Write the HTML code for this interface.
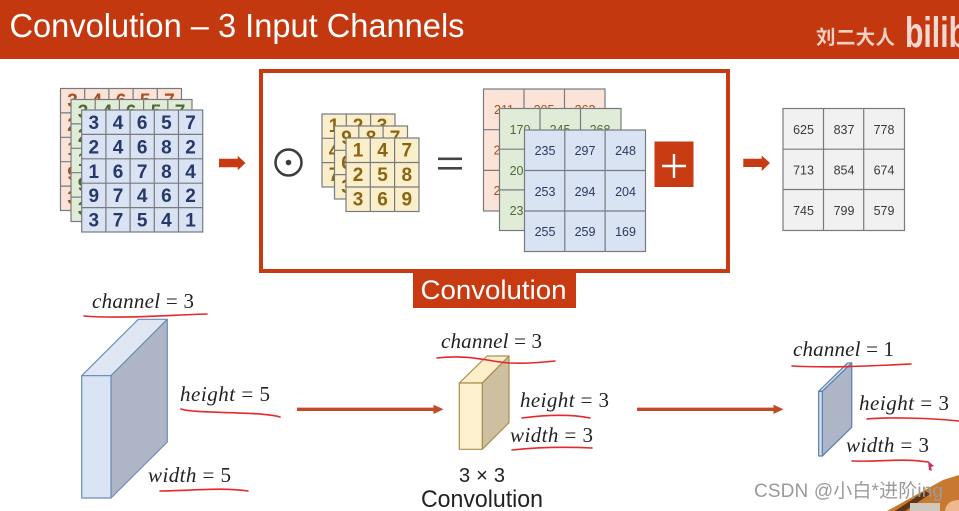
<!DOCTYPE html>
<html><head><meta charset="utf-8"><style>
html,body{margin:0;padding:0;background:#fff;width:959px;height:511px;overflow:hidden}
svg{display:block}
.m{font-family:"Liberation Serif",serif;font-size:21px;fill:#222}
.i{font-style:italic}
.n{font-family:"Liberation Sans",sans-serif;font-weight:bold;font-size:19px;text-anchor:middle}
.s{font-family:"Liberation Sans",sans-serif;font-size:12.5px;text-anchor:middle}
.u{fill:none;stroke:#e8272a;stroke-width:1.6;stroke-linecap:round}
.g{stroke:#777b80;stroke-width:1.2}
</style></head><body>
<svg width="959" height="511" viewBox="0 0 959 511" xmlns="http://www.w3.org/2000/svg">
<rect width="959" height="511" fill="#fff"/>
<rect width="959" height="59" fill="#c4380f"/>
<text x="9.500" y="37" font-family="Liberation Sans,sans-serif" font-size="33" fill="#fff" textLength="455" lengthAdjust="spacingAndGlyphs">Convolution – 3 Input Channels</text>
<text x="816" y="44" font-family="Liberation Sans,Noto Sans CJK SC,sans-serif" font-size="19.5" font-weight="bold" fill="#f3cfc4" textLength="79">刘二大人</text>
<text x="905" y="47" font-family="Liberation Sans,sans-serif" font-size="43" font-weight="bold" fill="#f3d8d2" textLength="62" lengthAdjust="spacingAndGlyphs">bilib</text>

<!-- input stacks -->
<g class="g"><rect x="60.5" y="88.5" width="121" height="122" fill="#fbe3d8"/><path d="M84.7 88.5V210.5M108.9 88.5V210.5M133.1 88.5V210.5M157.3 88.5V210.5M60.5 112.9H181.5M60.5 137.3H181.5M60.5 161.7H181.5M60.5 186.1H181.5" fill="none"/></g>
<g class="n" fill="#a8501f"><text x="72.600" y="107">3</text><text x="96.800" y="107">4</text><text x="121" y="107">6</text><text x="145.200" y="107">5</text><text x="169.400" y="107">7</text><text x="72.600" y="131">2</text><text x="72.600" y="155">1</text><text x="72.600" y="180">9</text><text x="72.600" y="204">3</text></g>
<g class="g"><rect x="71" y="99.500" width="121" height="122" fill="#e1ecd8"/><path d="M95.200 99.500V221.500M119.400 99.500V221.500M143.600 99.500V221.500M167.800 99.500V221.500M71 123.900H192M71 148.300H192M71 172.700H192M71 197.100H192" fill="none"/></g>
<g class="n" fill="#4c6a33"><text x="83" y="118">3</text><text x="107" y="118">4</text><text x="131" y="118">6</text><text x="156" y="118">5</text><text x="180" y="118">7</text><text x="83" y="142">2</text><text x="83" y="166">1</text><text x="83" y="191">9</text><text x="83" y="215">3</text></g>
<g class="g"><rect x="81.700" y="110" width="121" height="122" fill="#d9e3f3"/><path d="M105.900 110V232M130.100 110V232M154.300 110V232M178.500 110V232M81.700 134.400H202.700M81.700 158.800H202.700M81.700 183.200H202.700M81.700 207.600H202.700" fill="none"/></g>
<g class="n" fill="#26396a">
<text x="93.800" y="129">3</text><text x="118" y="129">4</text><text x="142.200" y="129">6</text><text x="166.400" y="129">5</text><text x="190.600" y="129">7</text>
<text x="93.800" y="153.500">2</text><text x="118" y="153.500">4</text><text x="142.200" y="153.500">6</text><text x="166.400" y="153.500">8</text><text x="190.600" y="153.500">2</text>
<text x="93.800" y="178">1</text><text x="118" y="178">6</text><text x="142.200" y="178">7</text><text x="166.400" y="178">8</text><text x="190.600" y="178">4</text>
<text x="93.800" y="202">9</text><text x="118" y="202">7</text><text x="142.200" y="202">4</text><text x="166.400" y="202">6</text><text x="190.600" y="202">2</text>
<text x="93.800" y="226.500">3</text><text x="118" y="226.500">7</text><text x="142.200" y="226.500">5</text><text x="166.400" y="226.500">4</text><text x="190.600" y="226.500">1</text>
</g>

<path d="M219 158.700H237.700V155.700L245.500 163L237.700 170.300V167.300H219Z" fill="#c73a12"/>
<rect x="261" y="71" width="467" height="200" fill="none" stroke="#c73a12" stroke-width="4"/>
<circle cx="288.500" cy="162.500" r="13" fill="none" stroke="#3c3c3c" stroke-width="2.500"/><circle cx="288.500" cy="162.500" r="2.800" fill="#3c3c3c"/>

<!-- kernel -->
<g class="g"><rect x="322" y="114" width="73" height="73" fill="#fbeecb"/><path d="M346.300 114V187M370.600 114V187M322 138.300H395M322 162.600H395"/></g>
<g class="n" fill="#8a6410"><text x="334" y="132">1</text><text x="358" y="132">2</text><text x="382" y="132">3</text><text x="334" y="157">4</text><text x="334" y="181">7</text></g>
<g class="g"><rect x="334.500" y="126" width="73" height="73" fill="#fbeecb"/><path d="M358.800 126V199M383.100 126V199M334.500 150.300H407.500M334.500 174.600H407.500"/></g>
<g class="n" fill="#8a6410"><text x="346.600" y="144">9</text><text x="371" y="144">8</text><text x="395" y="144">7</text><text x="346.600" y="169">6</text><text x="346.600" y="193">3</text></g>
<g class="g"><rect x="346" y="138" width="73" height="73.500" fill="#fbeecb"/><path d="M370.300 138V211.500M394.600 138V211.500M346 162.500H419M346 187H419"/></g>
<g class="n" fill="#8a6410">
<text x="358" y="156.500">1</text><text x="382.500" y="156.500">4</text><text x="406.800" y="156.500">7</text>
<text x="358" y="181">2</text><text x="382.500" y="181">5</text><text x="406.800" y="181">8</text>
<text x="358" y="205.500">3</text><text x="382.500" y="205.500">6</text><text x="406.800" y="205.500">9</text>
</g>
<rect x="438" y="157.500" width="24" height="2.600" fill="#444"/><rect x="438" y="167" width="24" height="2.600" fill="#444"/>

<!-- result stacks -->
<g class="g"><rect x="483.500" y="89" width="121.500" height="122" fill="#fbe3d8"/><path d="M524 89V211M564.500 89V211M483.500 129.700H605M483.500 170.400H605" fill="none"/></g>
<g class="s" fill="#a8501f"><text x="504" y="114">211</text><text x="544" y="114">205</text><text x="585" y="114">262</text><text x="504" y="154.500">207</text><text x="504" y="195">218</text></g>
<g class="g"><rect x="499.500" y="108.500" width="121.500" height="122" fill="#e1ecd8"/><path d="M540 108.500V230.500M580.500 108.500V230.500M499.500 149.200H621M499.500 189.900H621" fill="none"/></g>
<g class="s" fill="#4c6a33"><text x="520" y="134">170</text><text x="560" y="134">245</text><text x="600" y="134">268</text><text x="520" y="175">205</text><text x="520" y="215">237</text></g>
<g class="g"><rect x="524.500" y="130" width="121" height="121.500" fill="#d9e3f3"/><path d="M564.800 130V251.500M605.100 130V251.500M524.500 170.500H645.500M524.500 211H645.500" fill="none"/></g>
<g class="s" fill="#2c3a60">
<text x="545" y="155">235</text><text x="585" y="155">297</text><text x="625.500" y="155">248</text>
<text x="545" y="196">253</text><text x="585" y="196">294</text><text x="625.500" y="196">204</text>
<text x="545" y="236">255</text><text x="585" y="236">259</text><text x="625.500" y="236">169</text>
</g>
<rect x="654.500" y="141.500" width="39" height="45.500" fill="#c73a12"/>
<path d="M662 166H686M674 154V178" stroke="#fff" stroke-width="2.400"/>

<path d="M743.300 158.700H761.700V155.500L770 163L761.700 171V167H743.300Z" fill="#c73a12"/>
<g class="g"><rect x="783" y="108.500" width="121.500" height="122" fill="#f1f1f1"/><path d="M823.500 108.500V230.500M863.700 108.500V230.500M783 149.200H904.500M783 189.500H904.500" fill="none"/></g>
<g class="s" fill="#3a3a3a">
<text x="803.500" y="134">625</text><text x="844" y="134">837</text><text x="884" y="134">778</text>
<text x="803.500" y="174.500">713</text><text x="844" y="174.500">854</text><text x="884" y="174.500">674</text>
<text x="803.500" y="215">745</text><text x="844" y="215">799</text><text x="884" y="215">579</text>
</g>

<rect x="413" y="273" width="163" height="35" fill="#c73a12"/>
<text x="420.500" y="299" font-family="Liberation Sans,sans-serif" font-size="27" fill="#fff" textLength="146" lengthAdjust="spacingAndGlyphs">Convolution</text>

<!-- cuboids -->
<g stroke="#6c8db5" stroke-width="1.200" stroke-linejoin="round">
<path d="M81.700 375.700L138.300 319.300H167.300L111 375.700Z" fill="#dfe7f5"/>
<path d="M111 375.700L167.300 319.300V442L111 498Z" fill="#adb5c6"/>
<rect x="81.700" y="375.700" width="29.300" height="122.300" fill="#d9e4f4"/>
</g>
<g stroke="#a88f4e" stroke-width="1.200" stroke-linejoin="round">
<path d="M459.300 383L487 356H509L482.300 383Z" fill="#fdefca"/>
<path d="M482.300 383L509 356V422.700L482.300 449.300Z" fill="#cdbf9f"/>
<rect x="459.300" y="383" width="23" height="66.300" fill="#fdf0cf"/>
</g>
<g stroke="#5f84b0" stroke-width="1.300" stroke-linejoin="round">
<path d="M818.700 391.300L847.700 363H851.700L822.300 391.300Z" fill="#dfe7f5"/>
<path d="M822.300 391.300L851.700 363V427.300L822.300 456Z" fill="#adb5c6"/>
<rect x="818.700" y="391.300" width="3.600" height="64.700" fill="#d9e4f4"/>
</g>

<!-- arrows -->
<path d="M297 407.600H433.500V404.800L443.500 409.300L433.500 414V411H297Z" fill="#c24a24"/>
<path d="M637 407.600H773.500V404.800L783.500 409.300L773.500 414V411H637Z" fill="#c24a24"/>

<!-- labels -->
<g class="m">
<text x="92" y="308" textLength="102"><tspan class="i">channel</tspan> = 3</text>
<text x="180" y="401" textLength="90"><tspan class="i">height</tspan> = 5</text>
<text x="148" y="482" textLength="83"><tspan class="i">width</tspan> = 5</text>
<text x="441" y="348" textLength="101"><tspan class="i">channel</tspan> = 3</text>
<text x="520" y="407" textLength="89"><tspan class="i">height</tspan> = 3</text>
<text x="510" y="442" textLength="83"><tspan class="i">width</tspan> = 3</text>
<text x="793" y="356" textLength="101"><tspan class="i">channel</tspan> = 1</text>
<text x="859" y="410" textLength="90"><tspan class="i">height</tspan> = 3</text>
<text x="846" y="452" textLength="83"><tspan class="i">width</tspan> = 3</text>
</g>
<text x="459" y="482" font-family="Liberation Sans,sans-serif" font-size="20" fill="#222" textLength="46">3 × 3</text>
<text x="421" y="507" font-family="Liberation Sans,sans-serif" font-size="24" fill="#222" textLength="122" lengthAdjust="spacingAndGlyphs">Convolution</text>

<!-- underlines -->
<path class="u" d="M84 316C120 319 170 315 207 314"/>
<path class="u" d="M181 409C195 414 260 411 280 417"/>
<path class="u" d="M160 491C190 491 220 487 248 491"/>
<path class="u" d="M437 358C470 354 490 362 510 363C530 364 545 362 555 361"/>
<path class="u" d="M522 418C545 415 570 414 590 418"/>
<path class="u" d="M512 450C540 447 570 447 592 448"/>
<path class="u" d="M792 366C830 368 870 366 911 364"/>
<path class="u" d="M867 419C890 417 930 418 959 421"/>
<path class="u" d="M852 461C880 462 900 458 928 462"/>
<path d="M928 461L934 466L931 467L932 471L929 470Z" fill="#c8305a"/>

<!-- photo -->
<path d="M887 511L943 480L959 475V511Z" fill="#c9792f"/>
<path d="M895 511L925 491L930 494L905 511Z" fill="#5c3418"/>
<rect x="910" y="503" width="30" height="8" fill="#cfc9bd"/>
<path d="M945 511C946 503 952 500 959 500V511Z" fill="#eeb98f"/>

<text x="754" y="497" font-family="Liberation Sans,Noto Sans CJK SC,sans-serif" font-size="19" fill="#9a9a9a" textLength="189">CSDN @小白*进阶ing</text>
</svg>
</body></html>
